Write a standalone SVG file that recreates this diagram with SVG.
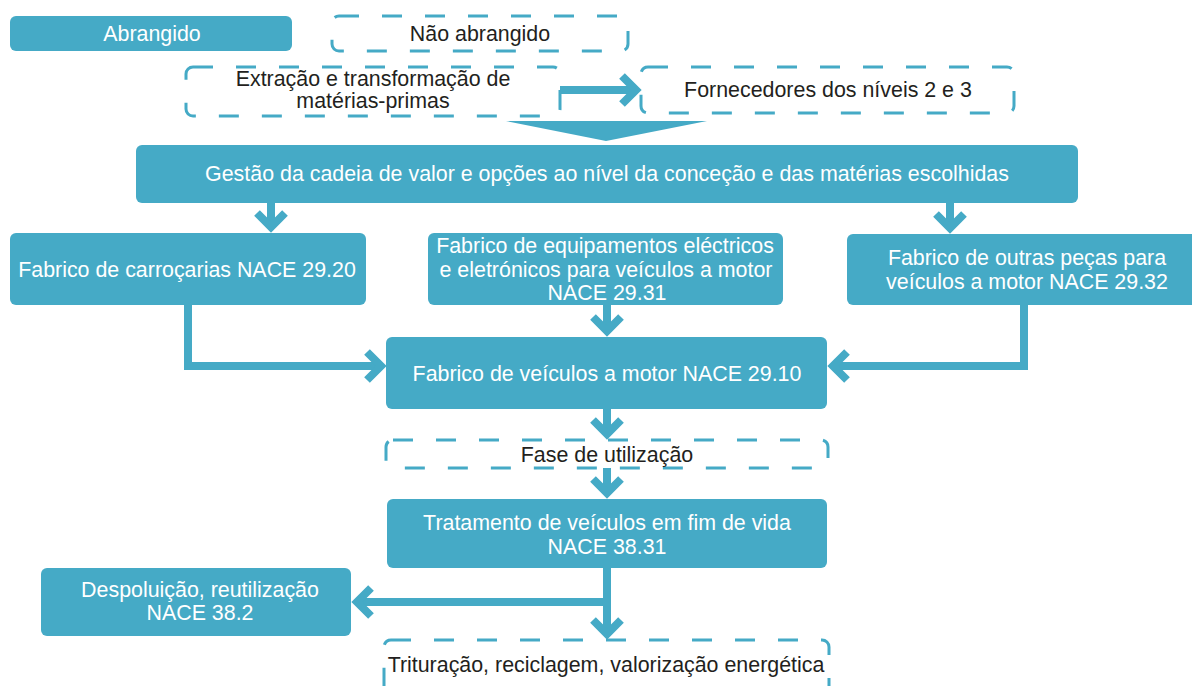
<svg xmlns="http://www.w3.org/2000/svg" width="1192" height="686" viewBox="0 0 1192 686">
<style>
.f{fill:#45AAC6;}
.d{fill:#FFFFFF;stroke:#45AAC6;stroke-width:3;stroke-dasharray:20 23;}
.t{font-family:"Liberation Sans",Arial,sans-serif;font-size:21.4px;text-anchor:middle;}
.w{fill:#FFFFFF;}
.k{fill:#231F20;}
.c{fill:none;stroke:#45AAC6;stroke-width:8;stroke-linejoin:miter;}
</style>
<defs>
<marker id="ah" viewBox="-20 -20 40 40" markerWidth="40" markerHeight="40" refX="0" refY="0" orient="auto" markerUnits="userSpaceOnUse">
<path d="M-14,-14 L0,0 L-14,14" fill="none" stroke="#45AAC6" stroke-width="8" stroke-linejoin="miter" stroke-miterlimit="10"/>
</marker>
</defs>
<rect width="1192" height="686" fill="#FFFFFF"/>
<g id="legend-abrangido">
<rect class="f" x="10" y="16" width="282" height="35" rx="6"/>
<text class="t w" x="152" y="41">Abrangido</text>
</g>
<g id="legend-nao-abrangido">
<rect class="d" x="332" y="16" width="296" height="35" rx="7"/>
<text class="t k" x="480" y="41">Não abrangido</text>
</g>
<g id="extracao">
<rect class="d" x="186" y="67" width="374" height="49" rx="7"/>
<text class="t k" x="373" y="86">Extração e transformação de</text>
<text class="t k" x="373" y="108">matérias-primas</text>
</g>
<g id="fornecedores">
<rect class="d" x="641" y="67" width="373" height="46" rx="7"/>
<text class="t k" x="828" y="97">Fornecedores dos níveis 2 e 3</text>
</g>
<g id="triangulo">
<polygon class="f" points="506,121 707,121 606,141"/>
</g>
<g id="gestao">
<rect class="f" x="136" y="145" width="942" height="58" rx="6"/>
<text class="t w" x="607" y="181">Gestão da cadeia de valor e opções ao nível da conceção e das matérias escolhidas</text>
</g>
<g id="carrocarias">
<rect class="f" x="10" y="233" width="356" height="72" rx="6"/>
<text class="t w" x="187" y="277">Fabrico de carroçarias NACE 29.20</text>
</g>
<g id="equipamentos">
<rect class="f" x="428" y="233" width="355" height="72" rx="6"/>
<text class="t w" x="605" y="253">Fabrico de equipamentos eléctricos</text>
<text class="t w" x="606" y="277">e eletrónicos para veículos a motor</text>
<text class="t w" x="607" y="300">NACE 29.31</text>
</g>
<g id="outras-pecas">
<rect class="f" x="847" y="234" width="360" height="71" rx="6"/>
<text class="t w" x="1027" y="265">Fabrico de outras peças para</text>
<text class="t w" x="1027" y="289">veículos a motor NACE 29.32</text>
</g>
<g id="veiculos">
<rect class="f" x="386" y="337" width="441" height="72" rx="6"/>
<text class="t w" x="607" y="381">Fabrico de veículos a motor NACE 29.10</text>
</g>
<g id="fase-utilizacao">
<rect class="d" x="386" y="440" width="442" height="28" rx="7"/>
<text class="t k" x="607" y="462">Fase de utilização</text>
</g>
<g id="tratamento">
<rect class="f" x="387" y="499" width="440" height="69" rx="6"/>
<text class="t w" x="607" y="530">Tratamento de veículos em fim de vida</text>
<text class="t w" x="607" y="554">NACE 38.31</text>
</g>
<g id="despoluicao">
<rect class="f" x="41" y="568" width="310" height="68" rx="6"/>
<text class="t w" x="200" y="597">Despoluição, reutilização</text>
<text class="t w" x="200" y="620">NACE 38.2</text>
</g>
<g id="trituracao">
<rect class="d" x="384" y="640" width="445" height="60" rx="7"/>
<text class="t k" x="606" y="672">Trituração, reciclagem, valorização energética</text>
</g>
<g id="connectors">
<path class="c" d="M560,90 H636" marker-end="url(#ah)"/>
<path class="c" d="M271,203 V227" marker-end="url(#ah)"/>
<path class="c" d="M950,203 V228" marker-end="url(#ah)"/>
<path class="c" d="M188,305 V366 H381" marker-end="url(#ah)"/>
<path class="c" d="M607,305 V331" marker-end="url(#ah)"/>
<path class="c" d="M1024,305 V366 H833" marker-end="url(#ah)"/>
<path class="c" d="M607,409 V434" marker-end="url(#ah)"/>
<path class="c" d="M607,468 V493" marker-end="url(#ah)"/>
<path class="c" d="M607,568 V602 H357" marker-end="url(#ah)"/>
<path class="c" d="M607,568 V634" marker-end="url(#ah)"/>
</g>
</svg>
